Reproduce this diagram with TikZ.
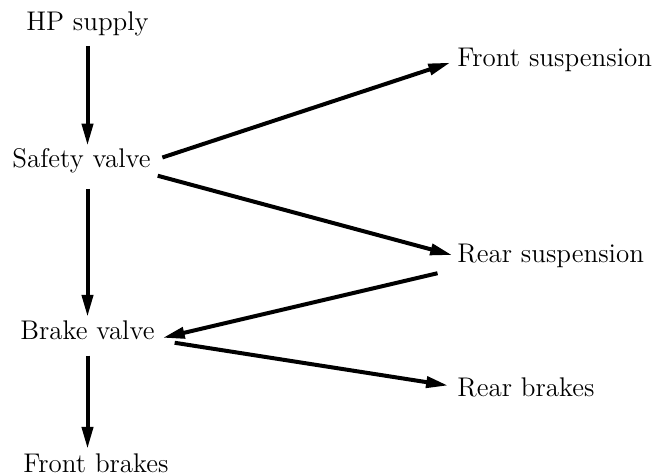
\documentclass[tikz,border=0pt]{standalone}
\usepackage{tikz}
\usetikzlibrary{arrows.meta}

\begin{document}
\begin{tikzpicture}[x=0.5pt,y=-0.5pt,font=\fontsize{13.5}{15}\selectfont,
  >={Triangle[length=11pt,width=5.5pt]},
  lbl/.style={inner sep=0pt,anchor=base},
  rlbl/.style={inner sep=0pt,anchor=base west},
  flow/.style={->,line width=2pt}]
  \useasboundingbox (0,0) rectangle (662,475);
  % left column
  \node[lbl] (hp) at (87.5,31) {HP supply};
  \node[lbl] (sv) at (81.5,168) {Safety valve};
  \node[lbl] (bv) at (87.5,339) {Brake valve};
  \node[lbl] (fb) at (96,472) {Front brakes};
  % right column
  \node[rlbl] (fs) at (457,67) {Front suspension};
  \node[rlbl] (rs) at (457,263) {Rear suspension};
  \node[rlbl] (rb) at (457,396) {Rear brakes};
  % straight down
  \draw[flow,shorten <=4.5pt,shorten >=1.5pt] (hp.south) -- (hp.south |- sv.north);
  \draw[flow,shorten <=7.5pt,shorten >=1.5pt] (bv.north |- sv.south) -- (bv.north);
  \draw[flow,shorten <=8pt,shorten >=2pt] (bv.south) -- (bv.south |- fb.north);
  % across
  \draw[flow,shorten <=6pt,shorten >=3.5pt] (sv.east) -- (fs.west);
  \draw[flow,shorten <=3.5pt,shorten >=2.5pt] (sv.south east) -- (rs.west);
  \draw[flow,shorten <=10pt,shorten >=4pt] (rs.south west) -- (bv.south east);
  \draw[flow,shorten <=10pt,shorten >=4.5pt] (bv.south east) -- (rb.west);
\end{tikzpicture}
\end{document}
